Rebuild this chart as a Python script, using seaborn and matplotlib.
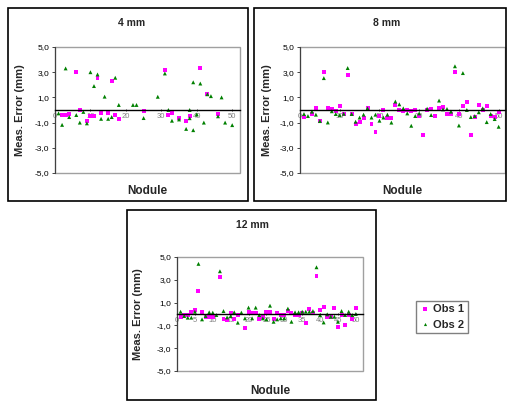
import numpy as np
import pandas as pd
import seaborn as sns
import matplotlib.pyplot as plt
from matplotlib.patches import Rectangle

# 4 mm panel
nod4_obs1 = [2, 3, 4, 6, 7, 9, 10, 11, 12, 13, 15, 16, 17, 18, 25, 31, 32, 33, 35, 37, 38, 41, 43, 46]
err4_obs1 = [-0.37, -0.4, -0.3, 3.0, 0.0, -0.85, -0.5, -0.5, 2.56, -0.25, -0.25, 2.29, -0.37, -0.7,
             -0.05, 3.2, -0.4, -0.27, -0.64, -0.85, -0.5, 3.35, 1.28, -0.3]
nod4_obs2 = [1, 2, 3, 4, 6, 7, 8, 9, 10, 11, 12, 13, 14, 15, 16, 17, 18, 22, 23, 25, 29, 31, 32, 33,
             35, 37, 38, 38, 39, 39, 40, 41, 42, 43, 44, 46, 47, 48, 50]
err4_obs2 = [-0.27, -1.18, 3.3, -0.56, -0.4, -1.0, -0.15, -1.06, 3.0, 1.9, 2.82, -0.7, 1.06, -0.7,
             -0.56, 2.56, 0.4, 0.4, 0.4, -0.64, 1.05, 2.9, 0.0, -0.85, -0.75, -1.5, 0.0, -0.65,
             -1.6, 2.2, -0.35, 2.1, -1.0, 1.25, 1.1, -0.5, 1.0, -1.0, -1.2]

# 8 mm panel
nod8_obs1 = [1] + list(range(3, 51))
err8_obs1 = [-0.53, -0.32, 0.13, -0.85, 3.0, 0.13, 0.05, -0.1, 0.32, -0.32, 2.8, -0.32, -1.1,
             -0.93, -0.67, 0.13, -1.1, -1.75, -0.45, 0.0, -0.6, -0.67, 0.37, 0.0, -0.08, 0.0,
             -0.08, 0.0, -0.45, -1.95, 0.0, 0.05, -0.45, 0.13, 0.27, -0.35, -0.35, 3.0, -0.35,
             0.3, 0.6, -1.95, -0.53, 0.37, 0.0, 0.3, -0.45, -0.53, -0.18]
nod8_obs2 = list(range(1, 31)) + [32, 33] + list(range(35, 51))
err8_obs2 = [-0.32, -0.48, -0.13, -0.37, -0.88, 2.53, -0.99, -0.1, -0.32, -0.4, -0.3, 3.33,
             -0.32, -0.93, -0.6, -0.37, 0.13, -0.6, -0.37, -0.85, -0.6, -0.37, -1.0, 0.67, 0.45,
             0.13, -0.27, -1.25, -0.48, -0.27, 0.1, -0.4, 0.75, 0.05, 0.08, -0.13, 3.47, -1.23,
             2.93, 0.0, -0.56, -0.48, -0.18, 0.13, -0.96, -0.32, -0.72, -1.33]

# 12 mm panel
nod12_obs1 = list(range(1, 11)) + list(range(12, 18)) + list(range(19, 51))
err12_obs1 = [-0.27, -0.09, -0.09, 0.2, 0.32, 2.05, 0.2, -0.24, -0.27, -0.27, 3.25, -0.47,
              -0.53, 0.12, -0.44, -0.09, -1.26, 0.15, 0.06, 0.06, -0.44, -0.3, 0.2, 0.15,
              -0.44, 0.06, -0.09, -0.09, 0.26, 0.06, -0.09, -0.09, 0.06, -0.82, 0.44, 0.06,
              3.35, 0.32, 0.65, -0.27, -0.24, 0.5, -1.15, -0.09, -0.97, -0.09, -0.47, 0.53]
nod12_obs2 = list(range(1, 51))
err12_obs2 = [0.2, -0.18, -0.32, -0.32, 0.2, 4.4, -0.47, -0.18, 0.15, 0.12, -0.09, 3.75, 0.26,
              -0.3, -0.18, 0.15, -0.76, 0.12, -0.38, 0.56, -0.38, 0.56, -0.09, -0.38, -0.47,
              0.73, -0.68, -0.47, -0.38, -0.38, 0.47, -0.68, 0.15, 0.15, 0.2, 0.2, 0.2, 0.26,
              4.1, -0.09, -0.74, -0.03, -0.24, -0.24, -0.68, 0.26, -0.09, 0.2, -0.09, 0.0]

titles = ["4 mm", "8 mm", "12 mm"]
yticks = [-5, -3, -1, 1, 3, 5]


def long_df(n1, e1, n2, e2):
    d1 = pd.DataFrame({"Nodule": n1, "Error": e1, "Observer": "Obs 1"})
    d2 = pd.DataFrame({"Nodule": n2, "Error": e2, "Observer": "Obs 2"})
    return pd.concat([d1, d2], ignore_index=True)


data = [long_df(nod4_obs1, err4_obs1, nod4_obs2, err4_obs2),
        long_df(nod8_obs1, err8_obs1, nod8_obs2, err8_obs2),
        long_df(nod12_obs1, err12_obs1, nod12_obs2, err12_obs2)]

sns.set_theme(style="white")
plt.rcParams["font.family"] = ["Liberation Sans", "DejaVu Sans"]

W, H = 507, 401
fig = plt.figure(figsize=(W / 100, H / 100), dpi=100)


def fx(x):
    return x / W


def fy(y):
    return 1 - y / H


# pixel boxes: plot area (x0, y0, x1, y1), outer frame, title pos, xlabel y, ylabel x
panels = [
    dict(area=(55, 47, 240, 173), frame=(8, 8, 248, 201), tx=132, ty=23, xly=191, ylx=20, xmax=52.2, step=10),
    dict(area=(300, 47, 505, 173), frame=(254, 8, 506, 201), tx=387, ty=23, xly=191, ylx=267, xmax=51.6, step=10),
    dict(area=(177, 257, 363, 371), frame=(127, 210, 376, 400), tx=252, ty=225, xly=391, ylx=138, xmax=52.0, step=5),
]

palette = {"Obs 1": "#FF00FF", "Obs 2": "#008000"}
markers = {"Obs 1": "s", "Obs 2": "^"}

handles, labels = None, None
for i, p in enumerate(panels):
    x0, y0, x1, y1 = p["area"]
    ax = fig.add_axes([fx(x0), fy(y1), fx(x1 - x0), (y1 - y0) / H])
    sns.scatterplot(data=data[i], x="Nodule", y="Error", hue="Observer", style="Observer",
                    palette=palette, markers=markers, s=8, linewidth=0, ax=ax,
                    legend=(i == 2))
    if i == 2:
        handles, labels = ax.get_legend_handles_labels()
        ax.get_legend().remove()
    # move x axis to zero first (this resets tick objects)
    for s in ["top", "right"]:
        ax.spines[s].set_visible(False)
    ax.spines["bottom"].set_position(("data", 0))
    ax.spines["bottom"].set_color("black")
    ax.spines["bottom"].set_linewidth(1.0)
    ax.spines["left"].set_color("#404040")
    ax.spines["left"].set_linewidth(0.8)

    ax.set_xlim(0, p["xmax"])
    ax.set_ylim(-5, 5)
    ax.set_yticks(yticks)
    ax.set_yticklabels([f"{v:.1f}".replace(".", ",") for v in yticks])
    xt = np.arange(0, 51, p["step"])
    ax.set_xticks(xt)
    ax.set_xticklabels([str(v) for v in xt])
    ax.set_xlabel("")
    ax.set_ylabel("")
    ax.tick_params(axis="y", left=True, length=2, width=0.6, pad=2, labelsize=6,
                   labelcolor="black")
    ax.tick_params(axis="x", bottom=True, length=2, width=0.6, pad=1, direction="inout",
                   labelsize=5.5, labelcolor="#808080")
    ax.add_patch(Rectangle((0, 0), 1, 1, transform=ax.transAxes, fill=False,
                           ec="#A0A0A0", lw=1.0, zorder=0, clip_on=False))

    fx0, fy0, fx1, fy1 = p["frame"]
    fig.add_artist(Rectangle((fx(fx0), fy(fy1)), fx(fx1 - fx0), (fy1 - fy0) / H,
                             transform=fig.transFigure, fill=False, ec="black", lw=1.2))
    fig.text(fx(p["tx"]), fy(p["ty"]), titles[i],
             ha="center", va="center", fontsize=7.5, fontweight="bold")
    fig.text(fx((x0 + x1) / 2), fy(p["xly"]), "Nodule",
             ha="center", va="center", fontsize=8.5, fontweight="bold")
    fig.text(fx(p["ylx"]), fy((y0 + y1) / 2), "Meas. Error (mm)", rotation=90,
             ha="center", va="center", fontsize=8, fontweight="bold")

fig.legend(handles, labels, loc="center", bbox_to_anchor=(fx(442), fy(317)),
           frameon=True, fancybox=False, edgecolor="#808080", framealpha=1,
           prop={"size": 8, "weight": "bold"}, handletextpad=0.2, borderpad=0.35,
           labelspacing=0.45, handlelength=1.0, markerscale=0.8)

fig.savefig("out.png", dpi=100)
